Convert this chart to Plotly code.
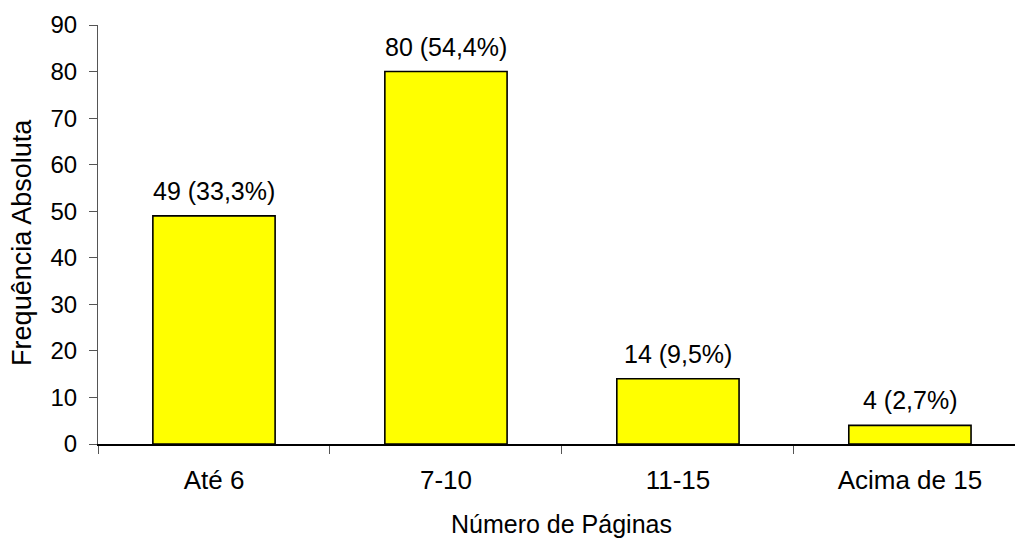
import plotly.graph_objects as go

# Distribution of documents by number of pages
categorias = ["Até 6", "7-10", "11-15", "Acima de 15"]
frequencias = [49, 80, 14, 4]
percentuais = ["33,3%", "54,4%", "9,5%", "2,7%"]
y_ticks = list(range(0, 91, 10))

FONT = "Liberation Sans, Arial, sans-serif"
W, H = 1015, 542
L, T, B = 98, 25, 98

fig = go.Figure(
    go.Bar(
        x=categorias,
        y=frequencias,
        width=0.527,
        marker=dict(color="#FFFF00", line=dict(color="#000000", width=1.6)),
        hoverinfo="skip",
    )
)

# value labels above each bar
for cat, val, pct in zip(categorias, frequencias, percentuais):
    fig.add_annotation(
        x=cat, y=val, text=f"{val} ({pct})", showarrow=False,
        yanchor="bottom", yshift=9, font=dict(size=25, color="#000000"),
    )

fig.add_annotation(
    xref="paper", yref="paper", x=(561 - L) / (W - L), y=-0.19,
    text="Número de Páginas", showarrow=False, yanchor="middle",
    font=dict(size=25, color="#000000"),
)

fig.add_annotation(
    xref="paper", yref="paper", x=-(L - 22) / (W - L), y=0.48,
    text="Frequência Absoluta", showarrow=False, textangle=-90,
    xanchor="center", yanchor="middle",
    font=dict(size=27, color="#000000"),
)

fig.update_layout(
    width=W, height=H,
    margin=dict(l=L, r=0, t=T, b=B, pad=0),
    paper_bgcolor="white", plot_bgcolor="white",
    font=dict(family=FONT, size=24, color="#000000"),
    showlegend=False,
    bargap=0.47,
)

fig.update_xaxes(
    type="category", range=[-0.5, 3.453],
    showline=True, linecolor="#000000", linewidth=1.5,
    ticks="outside", tickson="boundaries", ticklen=8, tickcolor="#555555",
    tickwidth=1, showgrid=False, zeroline=False,
    tickfont=dict(size=26), ticklabelstandoff=12,
)

fig.update_yaxes(
    range=[0, 90], tickvals=y_ticks,
    showline=True, linecolor="#555555", linewidth=1,
    ticks="outside", ticklen=8, tickcolor="#555555", tickwidth=1,
    showgrid=False, zeroline=False, tickfont=dict(size=24),
    ticklabelstandoff=7,
)

fig.write_html("out.html")
